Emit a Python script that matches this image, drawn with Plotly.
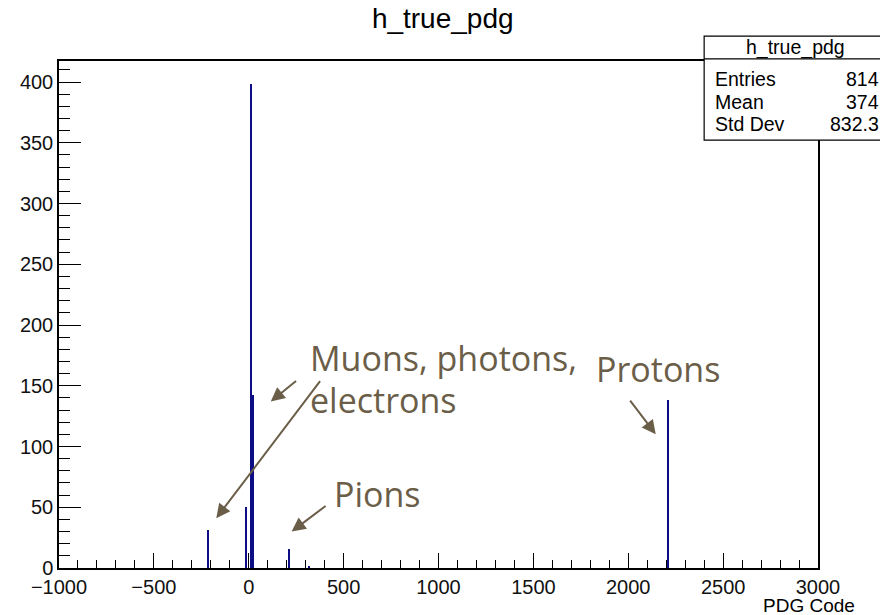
import plotly.graph_objects as go

# Data (PDG code -> entries)
pdg_codes = [-211, -13, 11, 13, 22, 211, 321, 2212]
counts = [31, 50, 398, 16, 142, 16, 2, 138]

stats_labels = ["Entries", "Mean", "Std Dev"]
stats_values = ["814", "374", "832.3"]

x_range = [-1000, 3000]
y_range = [0, 417.3]

ann_color = "#6b5e48"
hist_color = "#0d0d85"
font_root = "Liberation Sans, Arial, sans-serif"
font_ann = "Open Sans, sans-serif"

fig = go.Figure()
fig.add_trace(go.Bar(x=pdg_codes, y=counts, width=8,
                     marker=dict(color=hist_color, line=dict(width=0)),
                     showlegend=False))

# page body has an 8px margin, so the figure is 8px smaller and shifted
fig.update_layout(
    width=880, height=607,
    margin=dict(l=43, r=70, t=53, b=47),
    paper_bgcolor="white", plot_bgcolor="white",
    title=dict(text="h_true_pdg", x=0.494, xanchor="center", y=1.0, yanchor="top",
               pad=dict(t=0, b=0),
               font=dict(family=font_root, size=28, color="black")),
    font=dict(family=font_root, size=20, color="black"),
    bargap=0,
)
fig.update_xaxes(range=x_range, dtick=500, tick0=0, showgrid=False, zeroline=False,
                 showline=True, linecolor="black", linewidth=1.5, mirror=True,
                 ticks="inside", ticklen=15, tickwidth=1.2, tickcolor="black",
                 minor=dict(dtick=100, ticks="inside", ticklen=8, tickwidth=1.2, tickcolor="black"),
                 tickfont=dict(size=20, family=font_root, color="#111"))
fig.update_yaxes(range=y_range, dtick=50, tick0=0, showgrid=False, zeroline=False,
                 showline=True, linecolor="black", linewidth=1.5, mirror=True,
                 ticks="inside", ticklen=22, tickwidth=1.2, tickcolor="black",
                 minor=dict(dtick=10, ticks="inside", ticklen=11, tickwidth=1.2, tickcolor="black"),
                 tickfont=dict(size=20, family=font_root, color="#111"))

# axis title (ROOT style, right aligned)
fig.add_annotation(text="PDG Code", xref="paper", yref="paper", x=1.052, y=-0.073,
                   xanchor="right", yanchor="middle", showarrow=False,
                   font=dict(family=font_root, size=19, color="black"))

# Stats box
fig.add_shape(type="rect", xref="paper", yref="paper", x0=0.850, x1=1.090, y0=0.844, y1=1.049,
              line=dict(color="black", width=1.2), fillcolor="white", layer="above")
fig.add_shape(type="line", xref="paper", yref="paper", x0=0.850, x1=1.090, y0=1.004, y1=1.004,
              line=dict(color="black", width=1.2), layer="above")
fig.add_annotation(text="h_true_pdg", xref="paper", yref="paper", x=0.970, y=1.027,
                   xanchor="center", yanchor="middle", showarrow=False,
                   font=dict(family=font_root, size=19.5, color="black"))
stat_y = [0.964, 0.919, 0.875]
for lab, val, yy in zip(stats_labels, stats_values, stat_y):
    fig.add_annotation(text=lab, xref="paper", yref="paper", x=0.862, y=yy,
                       xanchor="left", yanchor="middle", showarrow=False,
                       font=dict(family=font_root, size=19.5, color="black"))
    fig.add_annotation(text=val, xref="paper", yref="paper", x=1.083, y=yy,
                       xanchor="right", yanchor="middle", showarrow=False,
                       font=dict(family=font_root, size=19.5, color="black"))

# Text annotations
texts = [("Muons, photons,", 310, 173), ("electrons", 310, 138.5),
         ("Protons", 1817, 164), ("Pions", 441, 61)]
for t, xx, yy in texts:
    fig.add_annotation(text=t, x=xx, y=yy, xanchor="left", yanchor="middle", showarrow=False,
                       font=dict(family=font_ann, size=34, color=ann_color))

# Arrows (tail -> head) in data units
arrows = [((257, 155), (116, 137)),
          ((382, 155), (-171, 41)),
          ((413, 52), (226, 30)),
          ((2004, 139), (2145, 110))]
for (tx, ty), (hx, hy) in arrows:
    fig.add_annotation(x=hx, y=hy, ax=tx, ay=ty, axref="x", ayref="y", text="",
                       showarrow=True, arrowhead=2, arrowsize=1.4, arrowwidth=2,
                       arrowcolor=ann_color)

fig.write_html("out.html")
